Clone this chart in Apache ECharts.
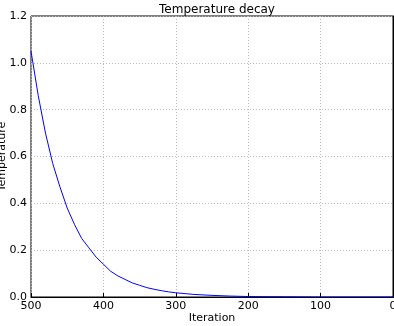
<!DOCTYPE html>
<html>
<head>
<meta charset="utf-8">
<script src="https://cdn.jsdelivr.net/npm/echarts@6/dist/echarts.min.js"></script>
<style>
  html, body { margin: 0; padding: 0; background: #fff; }
  #chart { width: 394px; height: 326px; }
</style>
</head>
<body>
<div id="chart"></div>
<script>
// values (ascending iteration)
const iterations = [0, 50, 100, 150, 200, 225, 250, 275, 300, 310, 320, 330, 340, 350, 360, 370, 380, 390, 400, 410, 420, 430, 440, 450, 460, 470, 480, 490, 500]
const temperature = [0.0, 0.0, 0.0, 0.001, 0.002, 0.004, 0.007, 0.011, 0.018, 0.022, 0.027, 0.033, 0.04, 0.05, 0.06, 0.075, 0.09, 0.11, 0.14, 0.17, 0.21, 0.25, 0.31, 0.38, 0.47, 0.57, 0.70, 0.86, 1.05]
const xTicks = [0, 100, 200, 300, 400, 500]
const yTicks = [0, 0.2, 0.4, 0.6, 0.8, 1.0, 1.2]

const font = 'DejaVu Sans, sans-serif'
const chart = echarts.init(document.getElementById('chart'))

chart.setOption({
  animation: false,
  title: {
    text: 'Temperature decay',
    left: 212,
    top: -1,
    textAlign: 'center',
    textStyle: { fontSize: 12, fontWeight: 'normal', color: '#000', fontFamily: font }
  },
  grid: {
    left: 31,
    right: 1,
    top: 16,
    bottom: 29,
    outerBoundsMode: 'none',
    containLabel: false,
    show: true,
    borderColor: '#000',
    borderWidth: 1
  },
  xAxis: {
    type: 'value',
    inverse: true,
    min: xTicks[0],
    max: xTicks[xTicks.length - 1],
    interval: 100,
    name: 'Iteration',
    nameLocation: 'middle',
    nameGap: 16,
    nameMoveOverlap: false,
    nameTextStyle: { fontSize: 11, color: '#000', fontFamily: font },
    axisLine: { show: true, lineStyle: { color: '#000' } },
    axisTick: { show: true, inside: true, length: 4, lineStyle: { color: '#000' } },
    axisLabel: { fontSize: 11, color: '#000', fontFamily: font, margin: 4 },
    splitLine: { show: true, lineStyle: { color: '#bbb', type: [1, 2] } }
  },
  yAxis: {
    type: 'value',
    min: yTicks[0],
    max: yTicks[yTicks.length - 1],
    interval: 0.2,
    name: 'Temperature',
    nameLocation: 'middle',
    nameGap: 23,
    nameMoveOverlap: false,
    nameTextStyle: { fontSize: 11, color: '#000', fontFamily: font },
    axisLine: { show: true, lineStyle: { color: '#000' } },
    axisTick: { show: true, inside: true, length: 4, lineStyle: { color: '#000' } },
    axisLabel: {
      fontSize: 11, color: '#000', fontFamily: font, margin: 4,
      formatter: v => v.toFixed(1)
    },
    splitLine: { show: true, lineStyle: { color: '#bbb', type: [1, 2] } }
  },
  series: [
    {
      type: 'line',
      data: iterations.map((x, i) => [x, temperature[i]]),
      smooth: false,
      showSymbol: false,
      lineStyle: { color: '#0000ff', width: 1 }
    }
  ]
})
</script>
</body>
</html>
